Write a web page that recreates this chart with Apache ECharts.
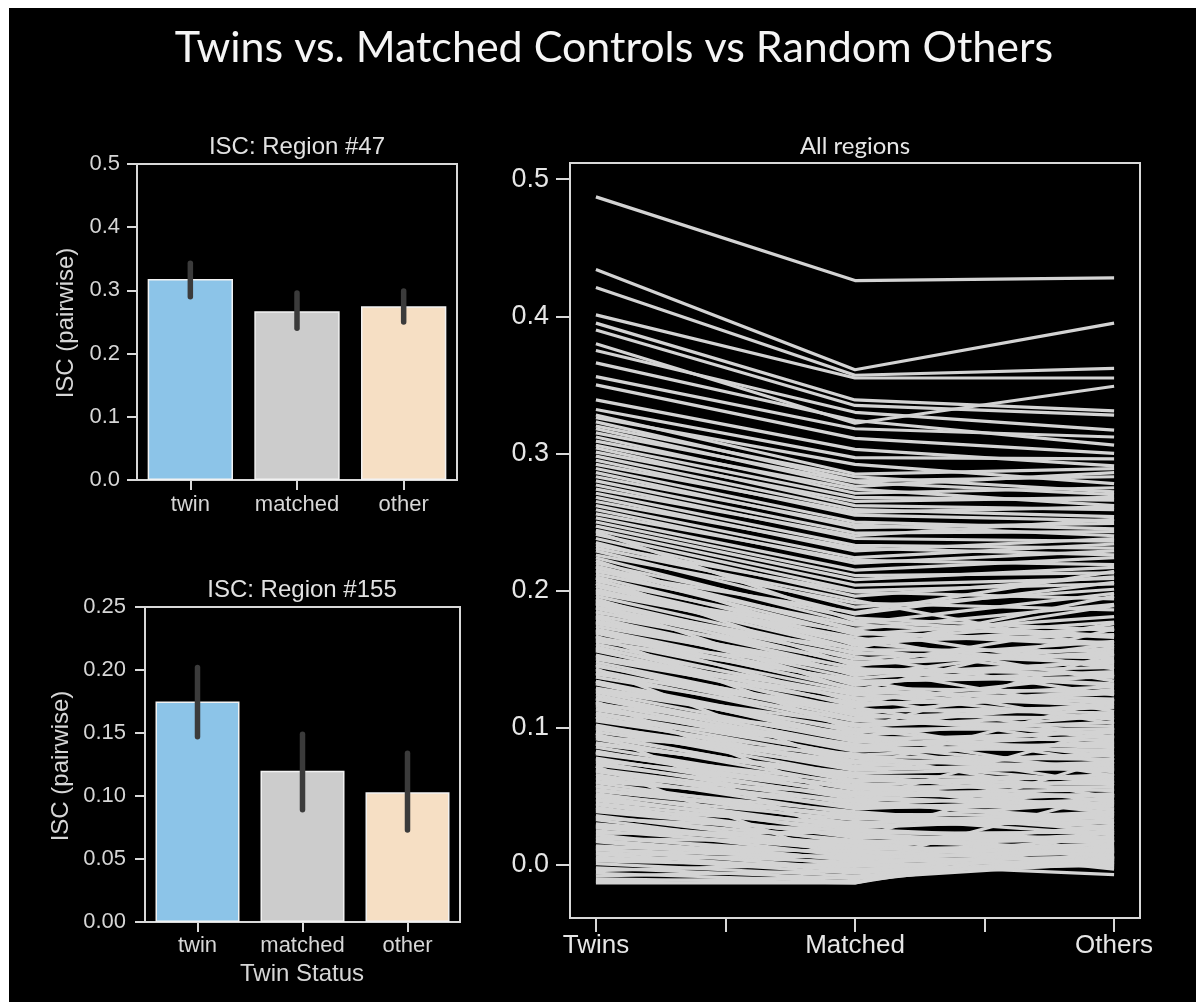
<!DOCTYPE html>
<html>
<head>
<meta charset="utf-8">
<script src="https://cdn.jsdelivr.net/npm/echarts@6/dist/echarts.min.js"></script>
<style>
html,body{margin:0;padding:0;background:#ffffff;}
#main{width:1196px;height:1002px;}
</style>
</head>
<body>
<div id="main"></div>
<script>
// ---------- data ----------
const barCategories = ['twin', 'matched', 'other'];
const barColors = ['#8cc4e8', '#cccccc', '#f6dfc4'];

const region47Mean = [0.318, 0.267, 0.275];
const region47Lo   = [0.290, 0.240, 0.250];
const region47Hi   = [0.343, 0.296, 0.299];
const region47Ticks = [0, 0.1, 0.2, 0.3, 0.4, 0.5];

const region155Mean = [0.175, 0.120, 0.103];
const region155Lo   = [0.147, 0.089, 0.073];
const region155Hi   = [0.202, 0.149, 0.134];
const region155Ticks = [0, 0.05, 0.10, 0.15, 0.20, 0.25];

const groupNames = ['Twins', 'Matched', 'Others'];
const groupPositions = [0, 1, 2];
const groupTickPositions = [0, 0.5, 1, 1.5, 2];
const allRegionsTicks = [0, 0.1, 0.2, 0.3, 0.4, 0.5];

const allTwins = [
  0.487,0.434,0.421,0.401,0.395,0.390,0.380,0.375,0.366,0.356,0.350,0.339,0.332,
  0.328,0.326,0.323,0.320,0.318,0.315,0.312,0.309,0.306,0.304,0.301,0.298,0.295,0.292,0.289,0.286,0.283,0.280,0.277,0.274,0.271,0.268,0.265,0.262,0.259,0.256,0.253,0.250,0.247,0.244,0.241,
  0.238,0.235,0.233,0.229,0.226,0.224,0.220,0.218,0.215,0.212,
  0.210,0.207,0.203,0.201,0.198,0.196,0.193,0.190,0.187,0.185,
  0.182,0.180,0.177,0.174,0.172,0.169,0.166,0.164,0.161,0.158,
  0.156,0.153,0.150,0.148,0.145,0.142,0.140,0.137,0.134,0.132,
  0.129,0.126,0.124,0.121,0.118,0.116,0.113,0.110,0.108,0.105,
  0.102,0.100,0.097,0.094,0.092,0.089,0.086,0.083,0.081,0.078,
  0.075,0.073,0.068,0.066,0.063,0.060,0.058,0.055,0.052,0.050,
  0.047,0.044,0.042,0.039,0.036,0.033,0.030,0.028,0.025,0.022,
  0.020,0.017,0.014,0.012,0.009,0.006,0.003,0.001,
  -0.002,-0.004,-0.006,-0.008,-0.010,-0.012,-0.013,
  0.243,0.231,0.222,0.217,0.209,0.200,0.194,0.188,0.181,0.176,
  0.170,0.163,0.157,0.151,0.146,0.139,0.133,0.128,0.122,0.117,
  0.111,0.106,0.099,0.093,0.088,0.082,0.077,0.070,0.064,0.057,
  0.051,0.045,0.040,0.035,0.029,0.023,0.018,0.013,0.008,0.004,
  0.214,0.205,0.191,0.167,0.143,0.119,0.096,0.072,
  0.205,0.199,0.192,0.184,0.178,0.171,0.165,0.159,0.152,0.146,
  0.140,0.134,0.127,0.121,0.114,0.108,0.101,0.095,0.088,0.082,
  0.076,0.069,0.061,0.054,0.048,0.041,0.034,0.027,0.019,0.011
];
const allMatched = [
  0.426,0.361,0.357,0.355,0.339,0.335,0.322,0.330,0.324,0.318,0.311,0.303,0.297,
  0.285,0.292,0.280,0.283,0.276,0.279,0.271,0.274,0.268,0.262,0.265,0.259,0.255,0.257,0.250,0.246,0.248,0.242,0.238,0.240,0.233,0.229,0.231,0.224,0.220,0.222,0.215,0.211,0.208,0.204,0.200,
  0.196,0.188,0.199,0.183,0.191,0.176,0.180,0.172,0.168,0.175,
  0.164,0.169,0.161,0.157,0.163,0.154,0.150,0.155,0.147,0.143,
  0.148,0.140,0.136,0.141,0.133,0.129,0.134,0.126,0.121,0.124,
  0.117,0.113,0.118,0.109,0.112,0.105,0.101,0.106,0.097,0.093,
  0.099,0.090,0.086,0.092,0.083,0.079,0.085,0.076,0.072,0.078,
  0.069,0.065,0.071,0.062,0.058,0.064,0.055,0.051,0.057,0.048,
  0.044,0.050,0.041,0.037,0.043,0.034,0.030,0.036,0.027,0.023,
  0.029,0.020,0.016,0.022,0.013,0.009,0.015,0.006,0.011,0.003,
  0.008,0.000,0.005,-0.003,0.002,-0.006,-0.001,-0.008,
  -0.010,0.001,-0.012,-0.004,-0.013,-0.009,-0.013,
  0.178,0.193,0.160,0.171,0.145,0.166,0.138,0.152,0.131,0.144,
  0.119,0.135,0.110,0.122,0.102,0.115,0.094,0.103,0.087,0.096,
  0.080,0.088,0.074,0.081,0.067,0.060,0.053,0.046,0.052,0.039,
  0.033,0.026,0.031,0.018,0.012,0.024,0.004,0.010,-0.004,0.007,
  0.184,0.158,0.127,0.098,0.071,0.047,0.019,0.001,
  0.162,0.170,0.146,0.158,0.139,0.128,0.142,0.116,0.125,0.107,
  0.111,0.091,0.099,0.084,0.088,0.070,0.075,0.061,0.066,0.052,
  0.057,0.042,0.047,0.035,0.028,0.021,0.025,0.014,0.017,0.005
];
const allOthers = [
  0.428,0.395,0.362,0.355,0.331,0.328,0.349,0.317,0.306,0.312,0.300,0.291,0.296,
  0.289,0.278,0.283,0.272,0.286,0.270,0.275,0.262,0.266,0.259,0.268,0.254,0.251,0.261,0.245,0.249,0.240,0.243,0.236,0.252,0.231,0.238,0.226,0.234,0.229,0.219,0.224,0.213,0.217,0.209,0.205,
  0.210,0.201,0.194,0.206,0.186,0.198,0.171,0.190,0.181,0.166,
  0.177,0.160,0.173,0.156,0.168,0.151,0.163,0.147,0.158,0.139,
  0.153,0.144,0.149,0.132,0.141,0.126,0.137,0.121,0.130,0.116,
  0.125,0.111,0.120,0.107,0.115,0.101,0.110,0.096,0.104,0.091,
  0.099,0.086,0.094,0.082,0.089,0.077,0.084,0.072,0.080,0.068,
  0.075,0.063,0.070,0.059,0.066,0.054,0.061,0.050,0.057,0.045,
  0.052,0.041,0.048,0.036,0.044,0.032,0.039,0.028,0.035,0.024,
  0.031,0.020,0.027,0.016,0.023,0.013,0.019,0.009,0.015,0.006,
  0.012,0.003,0.009,0.001,0.006,0.004,0.004,0.006,
  0.002,-0.007,0.010,0.000,0.018,0.005,0.025,
  0.167,0.158,0.189,0.143,0.176,0.134,0.161,0.124,0.150,0.112,
  0.139,0.103,0.128,0.093,0.118,0.085,0.109,0.074,0.098,0.065,
  0.090,0.058,0.081,0.049,0.071,0.040,0.062,0.033,0.055,0.025,
  0.046,0.018,0.038,0.011,0.029,0.005,0.021,0.002,0.014,-0.001,
  0.214,0.196,0.172,0.154,0.121,0.100,0.078,0.052,
  0.145,0.162,0.155,0.137,0.148,0.118,0.131,0.127,0.106,0.115,
  0.092,0.097,0.079,0.088,0.069,0.073,0.060,0.064,0.046,0.051,
  0.038,0.043,0.030,0.022,0.037,0.010,0.017,0.007,-0.003,0.011
];

// ---------- styling ----------
const SPINE = '#d9d9d9';
const LABEL = '#d6d6d6';
const SANS = '"Liberation Sans", Arial, sans-serif';

const chart = echarts.init(document.getElementById('main'), null, {renderer: 'canvas'});

function catX(gridIndex, labelSize, margin) {
  return {
    type: 'category', gridIndex: gridIndex, data: barCategories, boundaryGap: true,
    axisLine: {show: true, onZero: false, lineStyle: {color: SPINE, width: 2}},
    axisTick: {show: true, alignWithLabel: true, length: 10, lineStyle: {color: SPINE, width: 2}},
    axisLabel: {color: LABEL, fontFamily: SANS, fontSize: labelSize, margin: margin, interval: 0, hideOverlap: false},
    splitLine: {show: false}
  };
}
function valY(gridIndex, max, interval, digits, margin) {
  return {
    type: 'value', gridIndex: gridIndex, min: 0, max: max, interval: interval,
    axisLine: {show: true, onZero: false, lineStyle: {color: SPINE, width: 2}},
    axisTick: {show: true, length: 10, lineStyle: {color: SPINE, width: 2}},
    axisLabel: {color: LABEL, fontFamily: SANS, fontSize: 22, margin: margin,
      formatter: v => v.toFixed(digits)},
    splitLine: {show: false}
  };
}

function errRender(params, api) {
  const x = api.value(0);
  const p1 = api.coord([x, api.value(1)]);
  const p2 = api.coord([x, api.value(2)]);
  return {type: 'line', shape: {x1: p1[0], y1: p1[1], x2: p2[0], y2: p2[1]},
    style: {stroke: '#3b3b3b', lineWidth: 5.5, lineCap: 'round'}};
}

const series = [];
function addBars(axisIdx, means, los, his) {
  series.push({
    type: 'bar', xAxisIndex: axisIdx, yAxisIndex: axisIdx, barWidth: '80%',
    data: means.map((v, i) => ({value: v, itemStyle: {color: barColors[i], borderColor: '#f2f2f2', borderWidth: 1.5}})),
    silent: true, animation: false, z: 2
  });
  series.push({
    type: 'custom', xAxisIndex: axisIdx, yAxisIndex: axisIdx,
    data: los.map((v, i) => [i, v, his[i]]), encode: {x: 0, y: [1, 2]},
    renderItem: errRender, silent: true, animation: false, z: 5
  });
}
addBars(0, region47Mean, region47Lo, region47Hi);
addBars(1, region155Mean, region155Lo, region155Hi);

for (let i = 0; i < allTwins.length; i++) {
  series.push({
    type: 'line', xAxisIndex: 2, yAxisIndex: 2,
    data: [[groupPositions[0], allTwins[i]], [groupPositions[1], allMatched[i]], [groupPositions[2], allOthers[i]]],
    symbol: 'none', showSymbol: false, silent: true, animation: false,
    lineStyle: {color: '#d3d3d3', width: 3.2}, z: 2
  });
}

const option = {
  backgroundColor: '#000000',
  animation: false,
  grid: [
    {left: 137, top: 164, width: 320, height: 316, show: true, borderColor: SPINE, borderWidth: 2, backgroundColor: 'transparent'},
    {left: 145, top: 607, width: 315, height: 315, show: true, borderColor: SPINE, borderWidth: 2, backgroundColor: 'transparent'},
    {left: 570, top: 163, width: 570, height: 755, show: true, borderColor: SPINE, borderWidth: 2, backgroundColor: 'transparent'}
  ],
  xAxis: [
    catX(0, 22, 14),
    catX(1, 22, 13),
    {
      type: 'value', gridIndex: 2, min: -0.1, max: 2.1,
      axisLine: {show: true, onZero: false, lineStyle: {color: SPINE, width: 2}},
      axisTick: {show: true, length: 14, customValues: groupTickPositions, lineStyle: {color: SPINE, width: 2}},
      axisLabel: {color: '#e6e6e6', fontFamily: SANS, fontSize: 26, margin: 15,
        customValues: groupPositions, formatter: v => groupNames[Math.round(v)]},
      splitLine: {show: false}
    }
  ],
  yAxis: [
    valY(0, 0.5, 0.1, 1, 17),
    valY(1, 0.25, 0.05, 2, 19),
    {
      type: 'value', gridIndex: 2, min: -0.0386, max: 0.5117,
      axisLine: {show: true, onZero: false, lineStyle: {color: SPINE, width: 2}},
      axisTick: {show: true, length: 14, customValues: allRegionsTicks, lineStyle: {color: SPINE, width: 2}},
      axisLabel: {color: '#e6e6e6', fontFamily: SANS, fontSize: 27, margin: 21,
        customValues: allRegionsTicks, formatter: v => v.toFixed(1)},
      splitLine: {show: false}
    }
  ],
  graphic: [
    {type: 'rect', left: 0, top: 0, shape: {width: 1196, height: 8}, style: {fill: '#ffffff'}, silent: true},
    {type: 'rect', left: 0, top: 0, shape: {width: 9, height: 1002}, style: {fill: '#ffffff'}, silent: true},
    {type: 'text', x: 614, y: 48, style: {text: 'Twins vs. Matched Controls vs Random Others', fill: '#f5f5f5',
      font: '43px Lato, "Open Sans", sans-serif', textAlign: 'center', textVerticalAlign: 'middle'}},
    {type: 'text', x: 297, y: 147, style: {text: 'ISC: Region #47', fill: '#e2e2e2',
      font: '24px "Liberation Sans", Arial, sans-serif', textAlign: 'center', textVerticalAlign: 'middle'}},
    {type: 'text', x: 302, y: 590, style: {text: 'ISC: Region #155', fill: '#e2e2e2',
      font: '24px "Liberation Sans", Arial, sans-serif', textAlign: 'center', textVerticalAlign: 'middle'}},
    {type: 'text', x: 855, y: 146, style: {text: 'All regions', fill: '#e6e6e6',
      font: '24px Lato, "Open Sans", sans-serif', textAlign: 'center', textVerticalAlign: 'middle'}},
    {type: 'text', x: 66, y: 323, rotation: Math.PI / 2, style: {text: 'ISC (pairwise)', fill: '#d6d6d6',
      font: '24px "Liberation Sans", Arial, sans-serif', textAlign: 'center', textVerticalAlign: 'middle'}},
    {type: 'text', x: 61, y: 766, rotation: Math.PI / 2, style: {text: 'ISC (pairwise)', fill: '#d6d6d6',
      font: '24px "Liberation Sans", Arial, sans-serif', textAlign: 'center', textVerticalAlign: 'middle'}},
    {type: 'text', x: 302, y: 974, style: {text: 'Twin Status', fill: '#d6d6d6',
      font: '24px "Liberation Sans", Arial, sans-serif', textAlign: 'center', textVerticalAlign: 'middle'}}
  ],
  series: series
};
chart.setOption(option);
</script>
</body>
</html>
